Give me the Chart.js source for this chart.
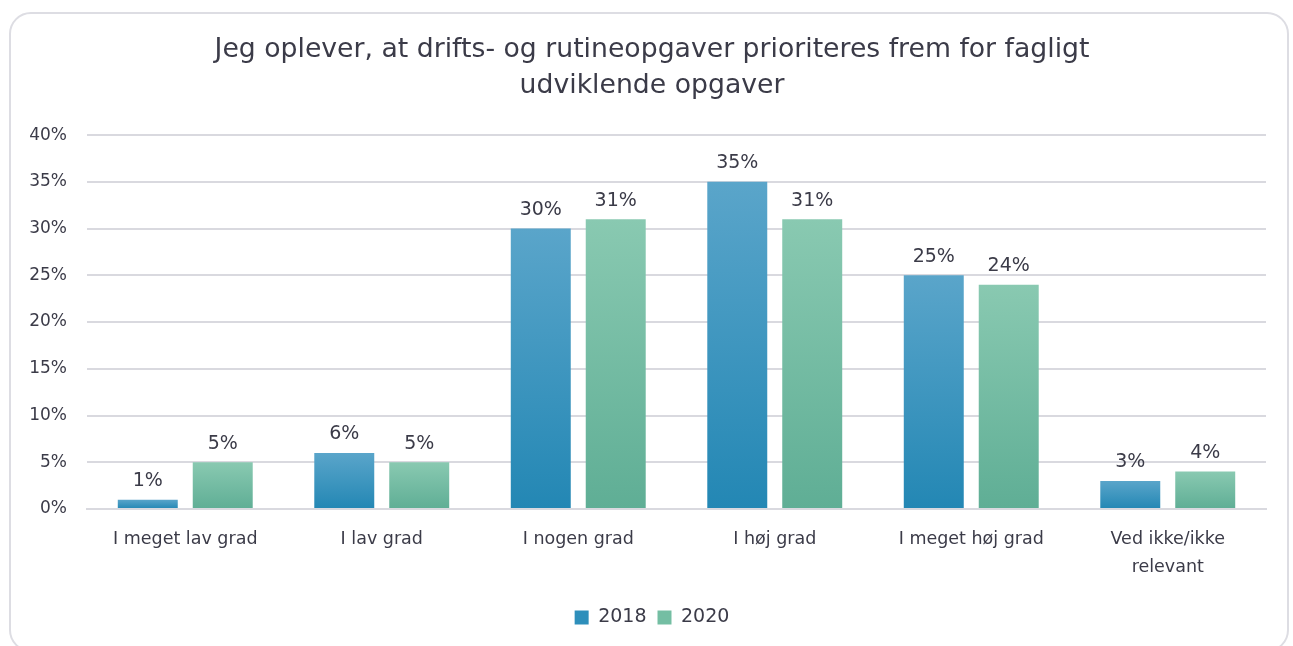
<!DOCTYPE html>
<html>
<head>
<meta charset="utf-8">
<script src="https://cdn.jsdelivr.net/npm/chart.js@4.4.0/dist/chart.umd.min.js"></script>
<style>
  html, body { margin: 0; padding: 0; background: #fff; }
  body { width: 1293px; height: 646px; overflow: hidden; position: relative; }
  .frame {
    position: absolute; left: 9px; top: 12px; width: 1280px; height: 640px;
    border: 2px solid #dddde3; border-radius: 22px; box-sizing: border-box;
  }
  .wrap { position: absolute; left: 0; top: 0; width: 1293px; height: 646px; }
</style>
</head>
<body>
<div class="frame"></div>
<div class="wrap"><canvas id="chart" width="1293" height="646"></canvas></div>
<script>
const categories = ['I meget lav grad', 'I lav grad', 'I nogen grad', 'I høj grad', 'I meget høj grad', ['Ved ikke/ikke', 'relevant']];
const values2018 = [1, 6, 30, 35, 25, 3];
const values2020 = [5, 5, 31, 31, 24, 4];
const yTicks = [0, 5, 10, 15, 20, 25, 30, 35, 40];

const textColor = '#3b3b48';
const fontFamily = '"DejaVu Sans", Verdana, sans-serif';

// per-bar vertical gradient, light at the top
function barGradient(top, bottom) {
  return ctx => {
    const chart = ctx.chart;
    const y = chart.scales.y;
    if (!y || ctx.raw === undefined) return bottom;
    const y0 = y.getPixelForValue(0);
    const y1 = y.getPixelForValue(ctx.raw);
    if (!isFinite(y0) || !isFinite(y1) || y0 === y1) return bottom;
    const g = chart.ctx.createLinearGradient(0, y1, 0, y0);
    g.addColorStop(0, top);
    g.addColorStop(1, bottom);
    return g;
  };
}

const valueLabels = {
  id: 'valueLabels',
  afterDatasetsDraw(chart) {
    const c = chart.ctx;
    c.save();
    c.fillStyle = textColor;
    c.font = '19px ' + fontFamily;
    c.textAlign = 'center';
    c.textBaseline = 'bottom';
    chart.data.datasets.forEach((ds, i) => {
      chart.getDatasetMeta(i).data.forEach((bar, j) => {
        c.fillText(ds.data[j] + '%', bar.x, bar.y - 9);
      });
    });
    c.restore();
  }
};

new Chart(document.getElementById('chart'), {
  type: 'bar',
  data: {
    labels: categories,
    datasets: [
      { label: '2018', data: values2018, backgroundColor: barGradient('#5aa5ca', '#2387b4'), legendColor: '#2e8fbb' },
      { label: '2020', data: values2020, backgroundColor: barGradient('#89c9b1', '#5fae95'), legendColor: '#74bea3' }
    ]
  },
  options: {
    responsive: false,
    animation: false,
    maintainAspectRatio: false,
    layout: { padding: { left: 20, right: 9, top: 10, bottom: 9 } },
    categoryPercentage: 0.763,
    barPercentage: 0.8,
    plugins: {
      title: {
        display: true,
        text: ['Jeg oplever, at drifts- og rutineopgaver prioriteres frem for fagligt', 'udviklende opgaver'],
        color: textColor,
        font: { family: fontFamily, size: 26.7, weight: 'normal', lineHeight: 1.35 },
        padding: { top: 22, bottom: 31 }
      },
      legend: {
        position: 'bottom',
        labels: {
          color: textColor,
          font: { family: fontFamily, size: 19 },
          boxWidth: 14, boxHeight: 14,
          padding: 11,
          generateLabels(chart) {
            return chart.data.datasets.map((ds, i) => ({
              text: ds.label, fillStyle: ds.legendColor, strokeStyle: ds.legendColor,
              lineWidth: 0, datasetIndex: i, fontColor: textColor
            }));
          }
        }
      },
      tooltip: { enabled: false }
    },
    scales: {
      x: {
        grid: { display: false, drawTicks: false },
        border: { color: '#d9d9df', width: 2 },
        ticks: { color: textColor, font: { family: fontFamily, size: 17.5, lineHeight: 1.6 }, padding: 16, maxRotation: 0, autoSkip: false }
      },
      y: {
        min: 0, max: 40,
        afterBuildTicks: axis => { axis.ticks = yTicks.map(v => ({ value: v })); },
        afterFit: axis => { axis.width = 67; },
        grid: { color: '#d9d9df', lineWidth: 2, drawTicks: false },
        border: { display: false },
        ticks: { color: textColor, font: { family: fontFamily, size: 17 }, padding: 20, callback: v => v + '%' }
      },
      // empty spacer on the right so the plot ends where the original does
      spacer: {
        position: 'right',
        grid: { display: false, drawTicks: false },
        border: { display: false },
        ticks: { display: false },
        afterFit: axis => { axis.width = 18; }
      }
    }
  },
  plugins: [valueLabels]
});
</script>
</body>
</html>
